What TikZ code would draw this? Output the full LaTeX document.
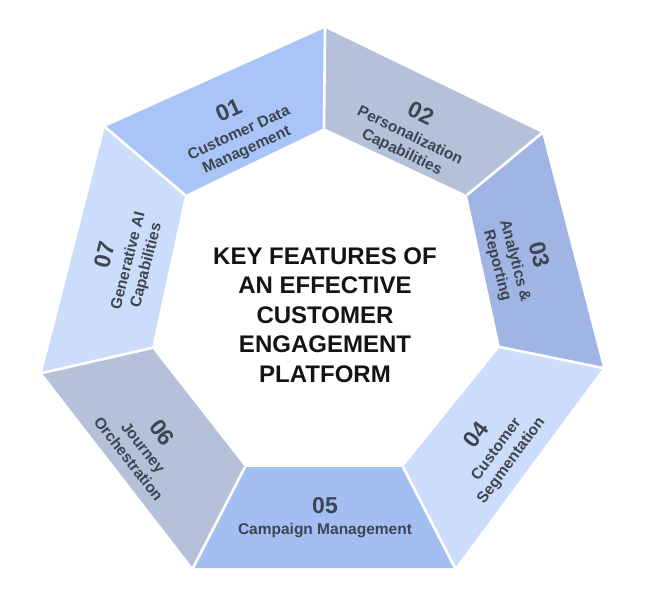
\documentclass[tikz,border=0pt]{standalone}
\usepackage{fontspec}
\setmainfont{Liberation Sans}
\definecolor{cA}{HTML}{A9C5F7}
\definecolor{cB}{HTML}{B4C1D9}
\definecolor{cC}{HTML}{A0B5E3}
\definecolor{cD}{HTML}{CCDDFB}
\definecolor{cE}{HTML}{A3BEF3}
\definecolor{txt}{HTML}{3E4450}
\tikzset{
  sep/.style={draw=white, line width=2.6pt},
  lbl/.style={text=txt, font=\bfseries\fontsize{15.5}{18.5}\selectfont, align=center, inner sep=0pt},
  ttl/.style={text=black!92, font=\bfseries\fontsize{24}{29.5}\selectfont, align=center, inner sep=0pt}
}
\newcommand{\dg}[1]{{\fontsize{23}{23}\selectfont #1}}
\begin{document}
\begin{tikzpicture}[x=1pt,y=-1pt]
\useasboundingbox (0,0) rectangle (650,609);
% outer vertices
\coordinate (o0) at (325,28);
\coordinate (o1) at (542,133);
\coordinate (o2) at (603,368);
\coordinate (o3) at (455,568);
\coordinate (o4) at (193,568);
\coordinate (o5) at (42,373);
\coordinate (o6) at (105,127);
% inner vertices
\coordinate (i0) at (324,128);
\coordinate (i1) at (467,195);
\coordinate (i2) at (500,347);
\coordinate (i3) at (403,467);
\coordinate (i4) at (245,467);
\coordinate (i5) at (152,348);
\coordinate (i6) at (185,195);
% segments
\fill[cA] (o6) -- (o0) -- (i0) -- (i6) -- cycle;
\fill[cB] (o0) -- (o1) -- (i1) -- (i0) -- cycle;
\fill[cC] (o1) -- (o2) -- (i2) -- (i1) -- cycle;
\fill[cD] (o2) -- (o3) -- (i3) -- (i2) -- cycle;
\fill[cE] (o3) -- (o4) -- (i4) -- (i3) -- cycle;
\fill[cB] (o4) -- (o5) -- (i5) -- (i4) -- cycle;
\fill[cD] (o5) -- (o6) -- (i6) -- (i5) -- cycle;
% separators
\foreach \k in {0,...,6} { \draw[sep] (o\k) -- (i\k); }
% labels
\node[lbl, rotate=24.5] (l1) at (237.5,130) {\dg{01}\\[3pt]Customer Data\\Management};
\node[lbl, rotate=-25.8] (l2) at (411.5,132.5) {\dg{02}\\[3pt]Personalization\\Capabilities};
\node[lbl, rotate=-75.4] (l3) at (518.5,260) {\dg{03}\\[3pt]Analytics \&\\Reporting};
\node[lbl, rotate=53.5] (l4) at (493.5,447.5) {\dg{04}\\[3pt]Customer\\Segmentation};
\node[lbl] (l5) at (325,517.5) {\dg{05}\\[3pt]Campaign Management};
\node[lbl, rotate=-52] (l6) at (146.5,445) {\dg{06}\\[3pt]Journey\\Orchestration};
\node[lbl, rotate=75.7] (l7) at (125,260) {\dg{07}\\[3pt]Generative AI\\Capabilities};
% title
\node[ttl] (title) at (325,315) {KEY FEATURES OF\\AN EFFECTIVE\\CUSTOMER\\ENGAGEMENT\\PLATFORM};
\end{tikzpicture}
\end{document}
